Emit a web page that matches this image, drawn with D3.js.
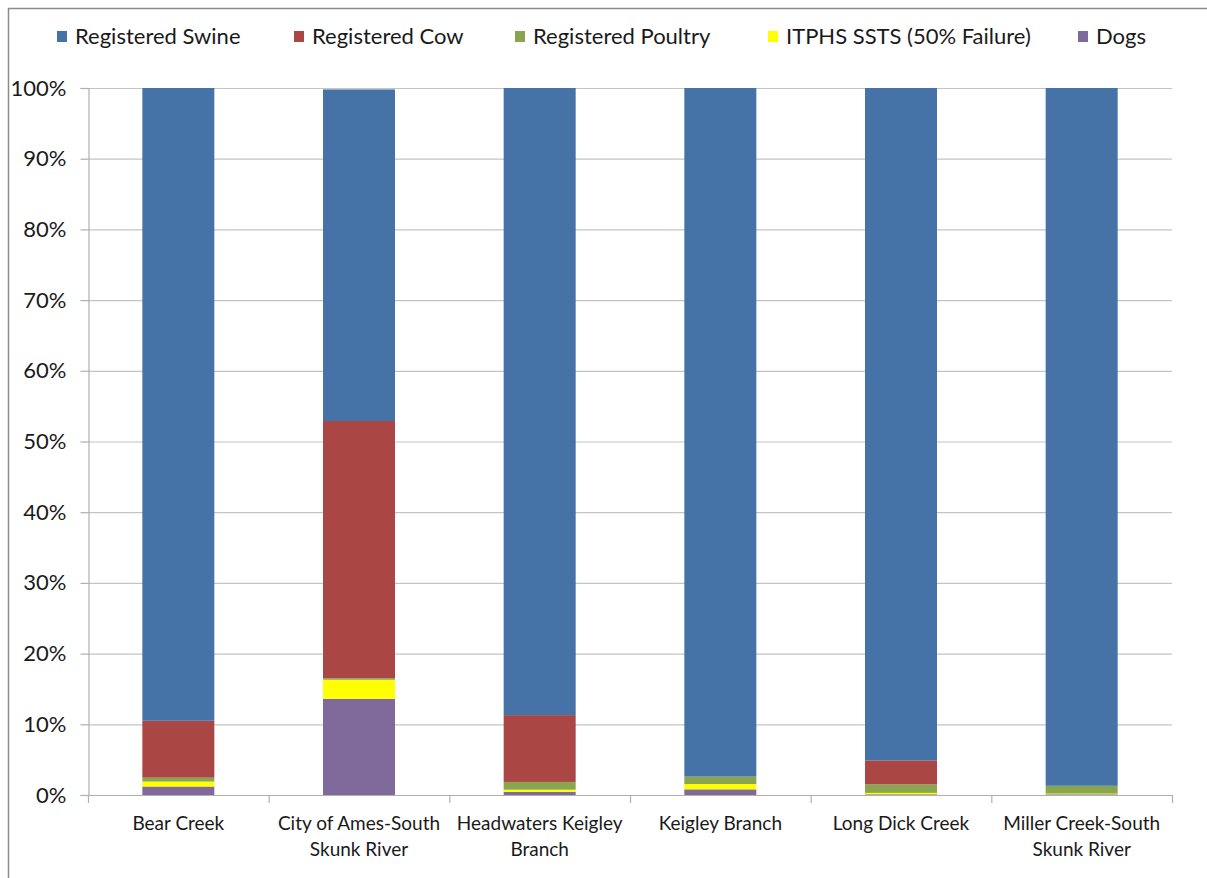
<!DOCTYPE html>
<html>
<head>
<meta charset="utf-8">
<script src="https://cdn.jsdelivr.net/npm/d3@7/dist/d3.min.js"></script>
<style>
  html, body { margin: 0; padding: 0; background: #fff; }
  svg { display: block; }
  text { font-family: Lato, "Open Sans", sans-serif; fill: #1a1a1a; }
</style>
</head>
<body>
<svg id="chart" width="1207" height="878"></svg>
<script>
// Watershed names (two-line labels)
const categories = [
  ["Bear Creek"],
  ["City of Ames-South", "Skunk River"],
  ["Headwaters Keigley", "Branch"],
  ["Keigley Branch"],
  ["Long Dick Creek"],
  ["Miller Creek-South", "Skunk River"]
];

// Share of bacteria load by source, percent (stack order bottom to top)
const dogs     = [1.2, 13.6, 0.45, 0.8, 0.1, 0.1];
const itphs    = [0.7,  2.7, 0.3, 0.75, 0.2, 0.1];
const poultry  = [0.55, 0.2, 1.1, 1.05, 1.2, 1.1];
const cow      = [8.05, 36.4, 9.45, 0.0, 3.4, 0.0];
const swine    = [89.5, 46.9, 88.7, 97.4, 95.1, 98.7];

const yTicks = [0, 10, 20, 30, 40, 50, 60, 70, 80, 90, 100];

const seriesNames = ["Registered Swine", "Registered Cow", "Registered Poultry", "ITPHS SSTS (50% Failure)", "Dogs"];
const seriesColors = ["#4572A7", "#AA4643", "#89A54E", "#FFFF00", "#80699B"];

// Build rows for the stack
const keys = ["dogs", "itphs", "poultry", "cow", "swine"];
const colorOf = { swine: "#4572A7", cow: "#AA4643", poultry: "#89A54E", itphs: "#FFFF00", dogs: "#80699B" };
const rows = categories.map((c, i) => ({
  name: c.join(" "),
  dogs: dogs[i], itphs: itphs[i], poultry: poultry[i], cow: cow[i], swine: swine[i]
}));

const svg = d3.select("#chart");
const margin = { left: 88, right: 1172, top: 88, bottom: 795 };

// Outer chart frame
svg.append("path")
  .attr("d", "M8.5,878 V8.5 H1207")
  .attr("fill", "none").attr("stroke", "#8c8c8c").attr("stroke-width", 1.5);

const x = d3.scaleBand().domain(rows.map(r => r.name)).range([margin.left, margin.right]).paddingInner(0).paddingOuter(0);
const y = d3.scaleLinear().domain([0, 100]).range([margin.bottom, margin.top]);

// Gridlines
svg.append("g").selectAll("line").data(yTicks.filter(t => t > 0)).join("line")
  .attr("x1", margin.left).attr("x2", margin.right)
  .attr("y1", d => y(d) + 0.5).attr("y2", d => y(d) + 0.5)
  .attr("stroke", "#c4c4c4").attr("stroke-width", 1.2);

// Y axis
const yAxis = svg.append("g").attr("transform", `translate(${margin.left + 0.5},0)`)
  .call(d3.axisLeft(y).tickValues(yTicks).tickFormat(d => d + "%").tickSize(8).tickPadding(14));
yAxis.select(".domain").attr("stroke", "#b0b0b0").attr("stroke-width", 1.2);
yAxis.selectAll(".tick line").attr("stroke", "#b0b0b0").attr("stroke-width", 1.2);
yAxis.selectAll(".tick text").attr("font-size", 22).attr("font-family", "Lato, sans-serif").attr("fill", "#1a1a1a");

// Bars
const stack = d3.stack().keys(keys)(rows);
const barW = 72;
svg.append("g").selectAll("g").data(stack).join("g")
  .attr("fill", d => colorOf[d.key])
  .selectAll("rect").data(d => d).join("rect")
  .attr("x", d => x(d.data.name) + x.bandwidth() / 2 - barW / 2)
  .attr("width", barW)
  .attr("y", d => y(d[1]))
  .attr("height", d => Math.max(0, y(d[0]) - y(d[1])));

// X axis line and boundary ticks
const xg = svg.append("g");
xg.append("line").attr("x1", margin.left).attr("x2", margin.right)
  .attr("y1", margin.bottom + 0.5).attr("y2", margin.bottom + 0.5)
  .attr("stroke", "#b0b0b0").attr("stroke-width", 1.2);
const bounds = rows.map(r => x(r.name)).concat([margin.right]);
xg.selectAll("line.b").data(bounds).join("line").attr("class", "b")
  .attr("x1", d => d + 0.5).attr("x2", d => d + 0.5)
  .attr("y1", margin.bottom).attr("y2", margin.bottom + 8)
  .attr("stroke", "#b0b0b0").attr("stroke-width", 1.2);

// Category labels
xg.selectAll("text").data(categories).join("text")
  .attr("x", (d, i) => x(rows[i].name) + x.bandwidth() / 2)
  .attr("y", 830)
  .attr("text-anchor", "middle").attr("font-size", 19)
  .selectAll("tspan").data(d => d).join("tspan")
  .attr("x", function () { return d3.select(this.parentNode).attr("x"); })
  .attr("dy", (d, i) => i === 0 ? 0 : 26)
  .text(d => d);

// Legend
const legendX = [57, 294, 515, 768, 1078];
const lg = svg.append("g");
seriesNames.forEach((n, i) => {
  lg.append("rect").attr("x", legendX[i]).attr("y", 31).attr("width", 10).attr("height", 11).attr("fill", seriesColors[i]);
  lg.append("text").attr("x", legendX[i] + 18).attr("y", 44).attr("font-size", 22).text(n);
});
</script>
</body>
</html>
